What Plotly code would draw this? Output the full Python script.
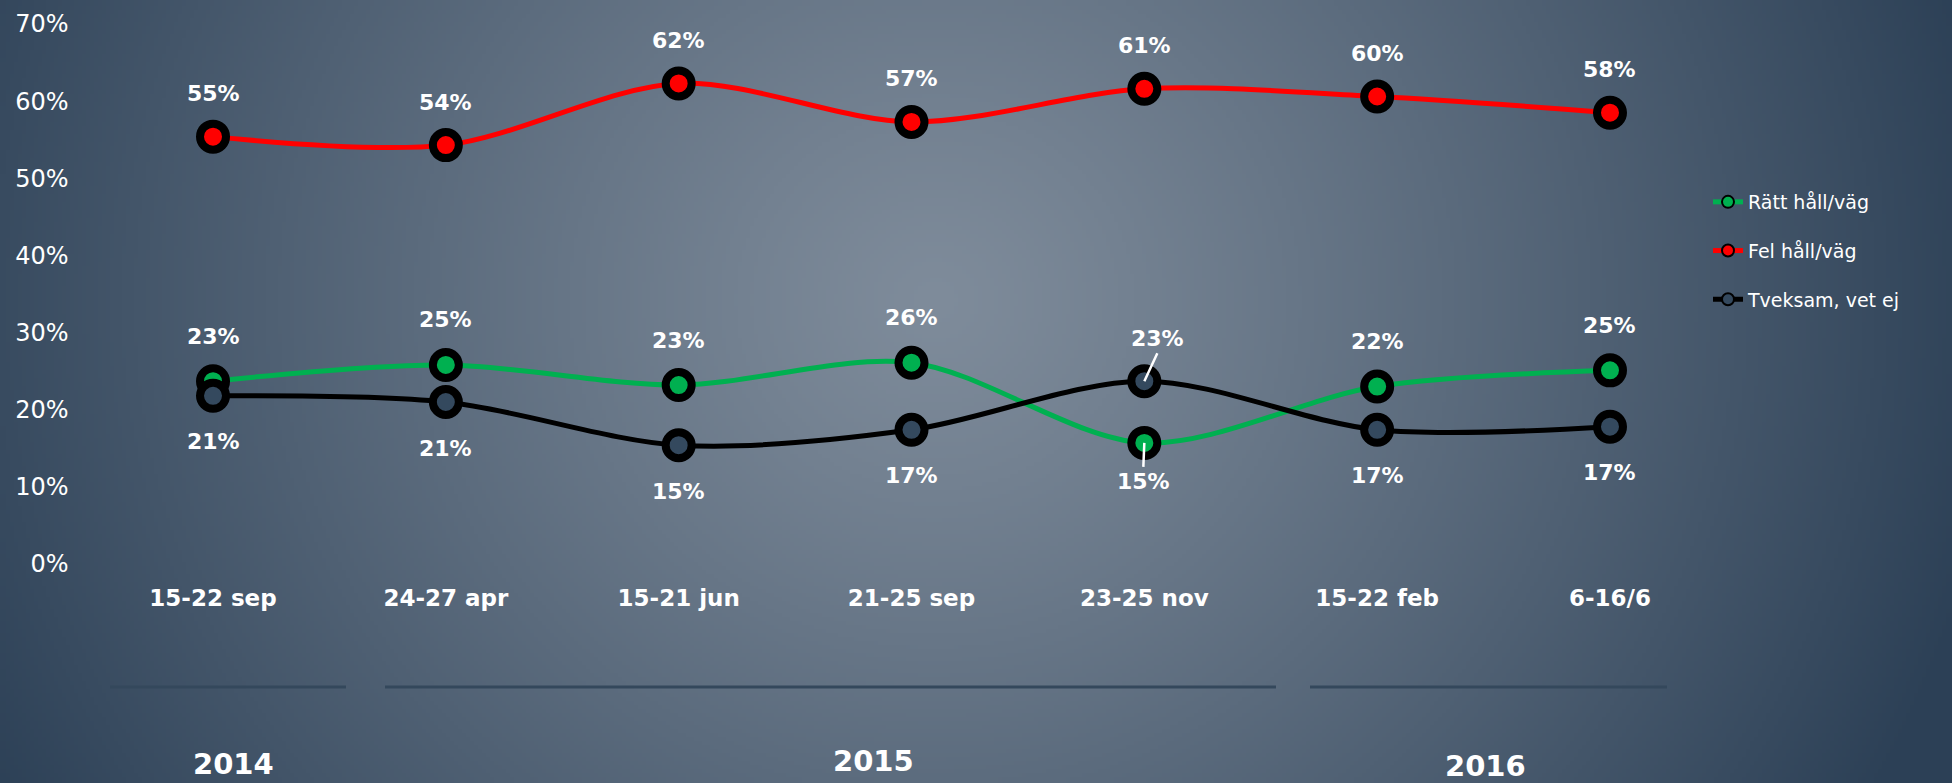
import base64, struct, zlib
import numpy as np
import plotly.graph_objects as go

# ---------------- data ----------------
categories = ["15-22 sep", "24-27 apr", "15-21 jun", "21-25 sep", "23-25 nov", "15-22 feb", "6-16/6"]
ratt = [23.7, 25.8, 23.2, 26.1, 15.7, 23.0, 25.1]
ratt_labels = ["23%", "25%", "23%", "26%", "15%", "22%", "25%"]
fel = [55.4, 54.3, 62.3, 57.3, 61.6, 60.6, 58.5]
fel_labels = ["55%", "54%", "62%", "57%", "61%", "60%", "58%"]
tveksam = [21.8, 21.0, 15.4, 17.4, 23.7, 17.4, 17.8]
tveksam_labels = ["21%", "21%", "15%", "17%", "23%", "17%", "17%"]
y_ticks = [0, 10, 20, 30, 40, 50, 60, 70]
y_tick_labels = ["0%", "10%", "20%", "30%", "40%", "50%", "60%", "70%"]
years = ["2014", "2015", "2016"]

W, H = 1952, 783
FONT = "DejaVu Sans"

# ---------------- background gradient (PNG data URI) ----------------
gw, gh = 488, 196
yy, xx = np.mgrid[0:gh, 0:gw]
px = (xx + 0.5) * W / gw
py = (yy + 0.5) * H / gh
d = np.sqrt((px - 935) ** 2 + ((py - 300) * 1.05) ** 2)
t = np.clip(d / 1080.0, 0, 1) ** 1.15
c0 = np.array([0x7f, 0x8c, 0x9b], dtype=float)
c1 = np.array([0x2c, 0x40, 0x56], dtype=float)
img = (c0[None, None, :] + (c1 - c0)[None, None, :] * t[..., None]).astype(np.uint8)
raw = b"".join(b"\x00" + img[r].tobytes() for r in range(gh))
def chunk(tag, data):
    return struct.pack(">I", len(data)) + tag + data + struct.pack(">I", zlib.crc32(tag + data) & 0xffffffff)
png = b"\x89PNG\r\n\x1a\n" + chunk(b"IHDR", struct.pack(">IIBBBBB", gw, gh, 8, 2, 0, 0, 0)) \
    + chunk(b"IDAT", zlib.compress(raw, 9)) + chunk(b"IEND", b"")
bg_uri = "data:image/png;base64," + base64.b64encode(png).decode()

# ---------------- figure ----------------
xs = list(range(len(categories)))
fig = go.Figure()

def add_series(name, vals, color, fill):
    fig.add_trace(go.Scatter(
        x=xs, y=vals, name=name, mode="lines+markers",
        legendgroup=name,
        line=dict(color=color, width=5, shape="spline", smoothing=0.9),
        marker=dict(size=26, color=fill, line=dict(color="black", width=8)),
        cliponaxis=False,
    ))

add_series("Rätt håll/väg", ratt, "#00b050", "#00b050")
add_series("Fel håll/väg", fel, "#ff0000", "#ff0000")
add_series("Tveksam, vet ej", tveksam, "#000000", "#34495e")

ann = []
lab_font = dict(family=FONT, size=22, color="white", weight="bold")
for i in xs:
    ann.append(dict(x=i, y=fel[i], text=fel_labels[i], showarrow=False, yshift=43, font=lab_font))
    if i == 4:
        ann.append(dict(x=i, y=ratt[i], text=ratt_labels[i], showarrow=True, arrowhead=0,
                        arrowcolor="white", arrowwidth=2.5, ax=-1, ay=24, yanchor="top",
                        standoff=0, startstandoff=0, font=lab_font))
        ann.append(dict(x=i, y=tveksam[i], text=tveksam_labels[i], showarrow=True, arrowhead=0,
                        arrowcolor="white", arrowwidth=2.5, ax=13, ay=-28, yanchor="bottom",
                        standoff=0, font=lab_font))
    else:
        ann.append(dict(x=i, y=ratt[i], text=ratt_labels[i], showarrow=False, yshift=45, font=lab_font))
        ann.append(dict(x=i, y=tveksam[i], text=tveksam_labels[i], showarrow=False, yshift=-46, font=lab_font))

# year labels
year_x = [233, 873, 1485]
year_y = [764, 761, 766]
for yr, xpx, ypx in zip(years, year_x, year_y):
    ann.append(dict(xref="paper", yref="paper", x=xpx / W, y=1 - ypx / H, text=yr, showarrow=False,
                    xanchor="center", yanchor="middle",
                    font=dict(family=FONT, size=29, color="white", weight="bold")))

shapes = []
for x0, x1 in [(110, 346), (385, 1276), (1310, 1667)]:
    shapes.append(dict(type="line", xref="paper", yref="paper", x0=x0 / W, x1=x1 / W,
                       y0=1 - 687 / H, y1=1 - 687 / H, line=dict(color="#34485c", width=3)))

x_lo, x_hi = -0.5, 6.5
fig.update_layout(
    width=W, height=H,
    margin=dict(l=0, r=0, t=0, b=0, pad=0, autoexpand=False),
    paper_bgcolor="#2c4056", plot_bgcolor="rgba(0,0,0,0)",
    images=[dict(source=bg_uri, xref="paper", yref="paper", x=0, y=1, sizex=1, sizey=1,
                 sizing="stretch", layer="below", xanchor="left", yanchor="top")],
    xaxis=dict(domain=[96.6 / W, 1726.4 / W], range=[x_lo, x_hi], tickvals=xs, ticktext=categories,
               showgrid=False, zeroline=False, showline=False, ticks="", automargin=False,
               ticklabelstandoff=18,
               tickfont=dict(family=FONT, size=23, color="white", weight="bold")),
    yaxis=dict(domain=[1 - 564 / H, 1 - 24 / H], range=[0, 70], tickvals=y_ticks, ticktext=y_tick_labels,
               showgrid=False, zeroline=False, showline=False, ticks="", automargin=False,
               ticklabelstandoff=27,
               tickfont=dict(family=FONT, size=24, color="white")),
    legend=dict(x=1708 / W, y=1 - 183 / H, xanchor="left", yanchor="top",
                bgcolor="rgba(0,0,0,0)", font=dict(family=FONT, size=19, color="white"),
                tracegroupgap=21, itemsizing="constant"),
    annotations=ann, shapes=shapes,
    showlegend=True,
)

fig.write_html("out.html", config={"displayModeBar": False},
               post_script="document.body.style.margin='0';document.body.style.overflow='hidden';")
